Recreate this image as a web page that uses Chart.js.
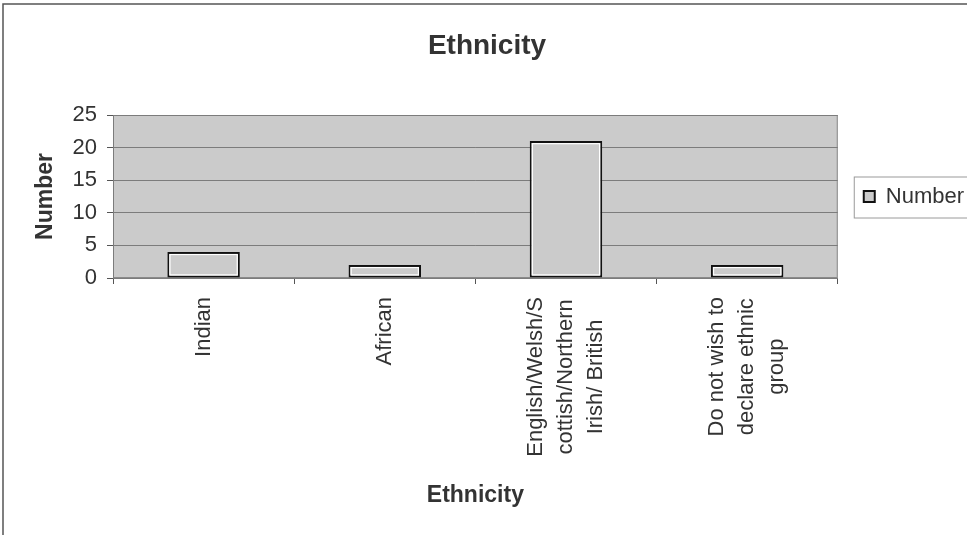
<!DOCTYPE html>
<html>
<head>
<meta charset="utf-8">
<script src="https://cdn.jsdelivr.net/npm/chart.js@4.4.0/dist/chart.umd.min.js"></script>
<style>
html,body{margin:0;padding:0;background:#fff;}
canvas{display:block;}
</style>
</head>
<body>
<canvas id="c" width="967" height="535"></canvas>
<script>
// ---- data ----
const categories = [
  ["Indian"],
  ["African"],
  ["English/Welsh/S", "cottish/Northern", "Irish/ British"],
  ["Do not wish to", "declare ethnic", "group"]
];
const seriesName = "Number";
const values = [4, 2, 21, 2];
const yTicks = [0, 5, 10, 15, 20, 25];
const chartTitle = "Ethnicity";
const xTitle = "Ethnicity";
const yTitle = "Number";

const FONT = "'Liberation Sans', Arial, Helvetica, sans-serif";
const TEXT = "#333333";
const PLOT_BG = "#cbcbcb";
const GRID = "#7c7c7c";

const decorPlugin = {
  id: 'decor',
  beforeDraw(chart) {
    const {ctx, chartArea: a} = chart;
    ctx.save();
    // outer frame (top & left)
    ctx.strokeStyle = '#555';
    ctx.lineWidth = 1.5;
    ctx.beginPath();
    ctx.moveTo(3, 535);
    ctx.lineTo(3, 4);
    ctx.lineTo(967, 4);
    ctx.stroke();
    // plot background
    ctx.fillStyle = PLOT_BG;
    ctx.fillRect(a.left, a.top, a.right - a.left, a.bottom - a.top);
    ctx.strokeStyle = '#8a8a8a';
    ctx.lineWidth = 1;
    ctx.strokeRect(a.left + 0.5, a.top + 0.5, a.right - a.left - 1, a.bottom - a.top - 1);
    ctx.restore();
  },
  afterDatasetsDraw(chart) {
    const {ctx} = chart;
    const meta = chart.getDatasetMeta(0);
    ctx.save();
    ctx.strokeStyle = '#ffffff';
    ctx.lineWidth = 1.2;
    meta.data.forEach(bar => {
      const p = bar.getProps(['x', 'y', 'base', 'width'], true);
      const l = p.x - p.width / 2 + 2.6;
      const w = p.width - 5.2;
      const t = p.y + 2.6;
      const h = p.base - p.y - 5.2;
      if (h > 0) ctx.strokeRect(l, t, w, h);
    });
    ctx.restore();
  },
  afterDraw(chart) {
    const {ctx} = chart;
    const xs = chart.scales.x;
    ctx.save();
    // x labels, rotated, lines centred
    ctx.font = "22px " + FONT;
    ctx.fillStyle = TEXT;
    ctx.textAlign = 'center';
    ctx.textBaseline = 'middle';
    const lh = 30;
    const y0 = xs.top + 19;
    categories.forEach((lines, i) => {
      const x = xs.getPixelForTick(i);
      const maxW = Math.max(...lines.map(s => ctx.measureText(s).width));
      ctx.save();
      ctx.translate(x, y0);
      ctx.rotate(-Math.PI / 2);
      lines.forEach((s, j) => {
        ctx.fillText(s, -maxW / 2, (j - (lines.length - 1) / 2) * lh);
      });
      ctx.restore();
    });
    // legend frame
    const lg = chart.legend;
    if (lg && lg.legendHitBoxes && lg.legendHitBoxes.length) {
      const hb = lg.legendHitBoxes[0];
      ctx.strokeStyle = '#9a9a9a';
      ctx.lineWidth = 1;
      ctx.strokeRect(hb.left - 9.5, hb.top - 8.5, 990 - hb.left, hb.height + 19);
    }
    ctx.restore();
  }
};

new Chart(document.getElementById('c'), {
  type: 'bar',
  data: {
    labels: categories,
    datasets: [{
      label: seriesName,
      data: values,
      backgroundColor: PLOT_BG,
      borderColor: '#111111',
      borderWidth: 2,
      borderSkipped: false,
      barPercentage: 0.4,
      categoryPercentage: 1.0
    }]
  },
  options: {
    responsive: false,
    animation: false,
    devicePixelRatio: 1,
    layout: { padding: { left: 0, right: -7, top: 0, bottom: 26 } },
    plugins: {
      title: {
        display: true,
        text: chartTitle,
        color: TEXT,
        font: { family: FONT, size: 28, weight: 'bold' },
        padding: { top: 29, bottom: 52.4 }
      },
      legend: {
        display: true,
        position: 'right',
        fullSize: false,
        labels: {
          color: TEXT,
          font: { family: FONT, size: 22 },
          boxWidth: 11,
          boxHeight: 11,
          padding: 26
        }
      },
      tooltip: { enabled: false }
    },
    scales: {
      x: {
        grid: {
          display: true,
          offset: true,
          drawOnChartArea: false,
          drawTicks: true,
          tickLength: 6,
          color: '#555'
        },
        border: { display: true, color: GRID },
        ticks: {
          color: 'rgba(0,0,0,0)',
          font: { family: FONT, size: 22 },
          maxRotation: 90,
          minRotation: 90,
          autoSkip: false
        },
        title: {
          display: true,
          text: xTitle,
          color: TEXT,
          font: { family: FONT, size: 23, weight: 'bold' },
          padding: { top: 0, bottom: 0 }
        },
        afterFit(scale) { scale.height = 231; }
      },
      y: {
        min: 0,
        max: 25,
        afterBuildTicks(scale) { scale.ticks = yTicks.map(v => ({ value: v })); },
        grid: {
          color: GRID,
          tickLength: 6,
          tickColor: '#555',
          lineWidth: 1
        },
        border: { display: true, color: GRID },
        ticks: {
          color: TEXT,
          font: { family: FONT, size: 22 },
          padding: 10
        },
        title: {
          display: true,
          text: yTitle,
          color: TEXT,
          font: { family: FONT, size: 23, weight: 'bold' },
          padding: { top: 32, bottom: 0 }
        },
        afterFit(scale) { scale.width = 113; }
      }
    }
  },
  plugins: [decorPlugin]
});
</script>
</body>
</html>
